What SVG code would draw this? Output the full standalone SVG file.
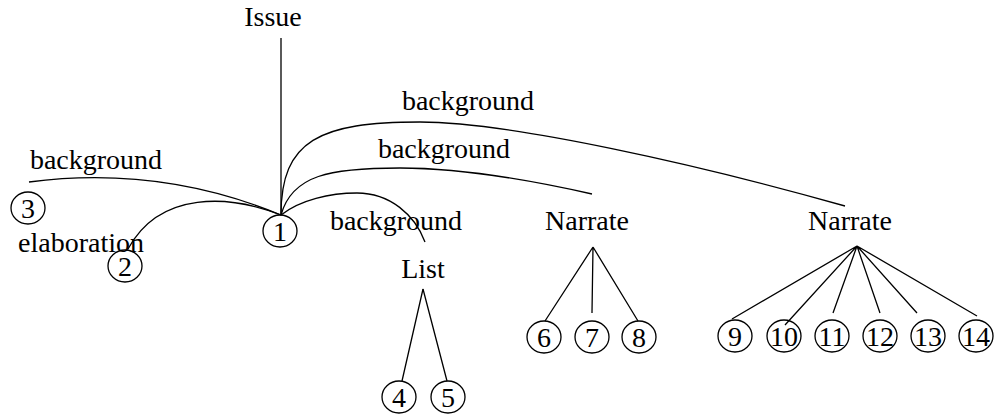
<svg xmlns="http://www.w3.org/2000/svg" width="994" height="416" viewBox="0 0 994 416">
<style>
text{font-family:"Liberation Serif","Times New Roman",serif;font-size:28px;fill:#000;text-anchor:middle}
.c{fill:none;stroke:#000;stroke-width:1.3}
.e{fill:none;stroke:#000;stroke-width:1.3}
</style>
<rect width="994" height="416" fill="#fff"/>
<g id="connectors">
<path class="e" d="M281,38 L281,215"/>
<path class="e" d="M281,215 Q160,165 29,182"/>
<path class="e" d="M281,215 C230,195 160,190 128,249"/>
<path class="e" d="M281,215 C281,140 320,122 420,122 C510,122 700,165 845,206"/>
<path class="e" d="M281,215 C292,175 330,168 400,168 C460,168 530,180 592,194"/>
<path class="e" d="M281,215 C300,200 330,193 357,193 C390,193 415,215 425,242"/>
<path class="e" d="M423,289 L402,381 M423,289 L447,381"/>
<path class="e" d="M593,247 L545,321 M593,247 L592,313 M593,247 L638,321"/>
<path class="e" d="M857,246 L732,319 M857,246 L785,325 M857,246 L833,313 M857,246 L880,313 M857,246 L917,313 M857,246 L977,316"/>
</g>
<g id="edge-labels">
<text x="96" y="169">background</text>
<text x="81" y="252">elaboration</text>
<text x="468" y="110">background</text>
<text x="444" y="158">background</text>
<text x="396" y="230">background</text>
</g>
<g id="issue"><text x="273" y="26">Issue</text></g>
<g id="list"><text x="423" y="278">List</text></g>
<g id="narrate1"><text x="587" y="230">Narrate</text></g>
<g id="narrate2"><text x="850" y="230">Narrate</text></g>
<g id="n1"><ellipse class="c" cx="280" cy="231" rx="17" ry="16"/><text x="280" y="240.5">1</text></g>
<g id="n2"><ellipse class="c" cx="125" cy="266" rx="17" ry="16"/><text x="125" y="275.5">2</text></g>
<g id="n3"><ellipse class="c" cx="28" cy="208" rx="17" ry="16"/><text x="28" y="217.5">3</text></g>
<g id="n4"><ellipse class="c" cx="399" cy="397" rx="17" ry="16"/><text x="399" y="406.5">4</text></g>
<g id="n5"><ellipse class="c" cx="448" cy="397" rx="17" ry="16"/><text x="448" y="406.5">5</text></g>
<g id="n6"><ellipse class="c" cx="544" cy="337" rx="17" ry="16"/><text x="544" y="346.5">6</text></g>
<g id="n7"><ellipse class="c" cx="592" cy="337" rx="17" ry="16"/><text x="592" y="346.5">7</text></g>
<g id="n8"><ellipse class="c" cx="639" cy="337" rx="17" ry="16"/><text x="639" y="346.5">8</text></g>
<g id="n9"><ellipse class="c" cx="735" cy="336" rx="17" ry="16"/><text x="735" y="345.5">9</text></g>
<g id="n10"><ellipse class="c" cx="784" cy="336" rx="17" ry="16"/><text x="784" y="345.5">10</text></g>
<g id="n11"><ellipse class="c" cx="832" cy="336" rx="17" ry="16"/><text x="832" y="345.5">11</text></g>
<g id="n12"><ellipse class="c" cx="880" cy="336" rx="17" ry="16"/><text x="880" y="345.5">12</text></g>
<g id="n13"><ellipse class="c" cx="928" cy="336" rx="17" ry="16"/><text x="928" y="345.5">13</text></g>
<g id="n14"><ellipse class="c" cx="976" cy="336" rx="17" ry="16"/><text x="976" y="345.5">14</text></g>
</svg>
